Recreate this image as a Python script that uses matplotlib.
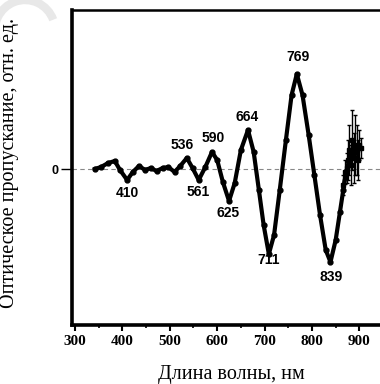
import matplotlib
matplotlib.use("Agg")
import matplotlib.pyplot as plt
from matplotlib.patches import Arc

# ── data (y in arbitrary units, 0 = baseline) ───────────────────────────────
wl = [342, 355, 370, 384, 395, 410, 422, 435, 448, 460, 472, 485, 497, 510,
      522, 536, 548, 561, 575, 589, 600, 612, 625, 637, 650, 665, 677, 688,
      698, 709, 720, 732, 745, 757, 768, 780, 793, 805, 817, 829, 839, 850,
      859, 866, 872]
trans = [0.00, 0.02, 0.06, 0.08, -0.01, -0.11, -0.03, 0.03, -0.01, 0.01,
         -0.02, 0.01, 0.02, -0.03, 0.03, 0.11, 0.01, -0.11, 0.02, 0.17,
         0.09, -0.13, -0.32, -0.14, 0.19, 0.39, 0.17, -0.21, -0.56, -0.85,
         -0.66, -0.21, 0.29, 0.74, 0.95, 0.74, 0.34, -0.06, -0.46, -0.81,
         -0.93, -0.71, -0.43, -0.21, -0.03]

# noisy tail with error bars
noise_wl = [866, 870, 873, 876, 879, 882, 885, 888, 891, 894, 897, 900, 903]
noise_y = [-0.16, -0.03, 0.01, 0.09, 0.19, 0.04, 0.29, 0.11, 0.24, 0.19,
           0.09, 0.24, 0.21]
noise_err = [0.10, 0.12, 0.15, 0.20, 0.25, 0.20, 0.30, 0.25, 0.30, 0.25,
             0.20, 0.15, 0.10]

peak_labels = ["410", "536", "561", "590", "625", "664", "711", "769", "839"]
label_pos = [(410, -0.24), (527, 0.24), (559, -0.23), (591, 0.31),
             (623, -0.44), (663, 0.52), (709, -0.91), (770, 1.12),
             (840, -1.08)]

x_ticks = [300, 400, 500, 600, 700, 800, 900]

# ── plot ────────────────────────────────────────────────────────────────────
fig = plt.figure(figsize=(3.8, 3.84), dpi=100)
ax = fig.add_axes([72 / 380, 1 - 325 / 384, 318 / 380, 315 / 384])

ax.axhline(0, color="#888888", lw=0.8, ls=(0, (4, 3)), zorder=1)
ax.plot(wl, trans, color="black", lw=3.0, marker="o", ms=3.5, zorder=3)
ax.errorbar(noise_wl, noise_y, yerr=noise_err, color="black", lw=1.8,
            elinewidth=1.0, capsize=1.5, marker="s", ms=2.5, zorder=3)

for txt, (x, y) in zip(peak_labels, label_pos):
    ax.text(x, y, txt, ha="center", va="center", fontsize=10,
            fontweight="bold", family="Liberation Sans", zorder=4)

ax.set_xlim(293.7, 964.6)
ax.set_ylim(-1.56, 1.59)

ax.set_xticks(x_ticks)
ax.set_xticks([350, 450, 550, 650, 750, 850], minor=True)
ax.set_xticklabels([str(t) for t in x_ticks], family="Liberation Serif",
                   fontweight="bold", fontsize=11)
ax.set_yticks([0])
ax.set_yticklabels(["0"], family="Liberation Sans", fontweight="bold",
                   fontsize=9)
ax.tick_params(axis="x", which="major", direction="out", length=4, width=1.5,
               pad=3)
ax.tick_params(axis="x", which="minor", direction="out", length=2.5, width=1.2)
ax.tick_params(axis="y", direction="out", length=8, width=1.0, pad=2)

for side in ["left", "bottom"]:
    ax.spines[side].set_linewidth(2.6)
ax.spines["top"].set_linewidth(1.8)
ax.spines["right"].set_visible(False)

ax.set_xlabel("Длина волны, нм", family="Liberation Serif", fontsize=14.5)
ax.xaxis.set_label_coords(0.5, -0.128)
ax.set_ylabel("Оптическое пропускание, отн. ед.", family="Liberation Serif",
              fontsize=14.5)
ax.yaxis.set_label_coords(-0.166, 0.514)

# faint watermark stroke in the top-left corner
fig.patches.append(Arc((25, 384 - 30), 60, 60, theta1=20, theta2=200,
                       transform=None, color="#e8e8e8", lw=6, zorder=0))

fig.savefig("out.png", dpi=100)
